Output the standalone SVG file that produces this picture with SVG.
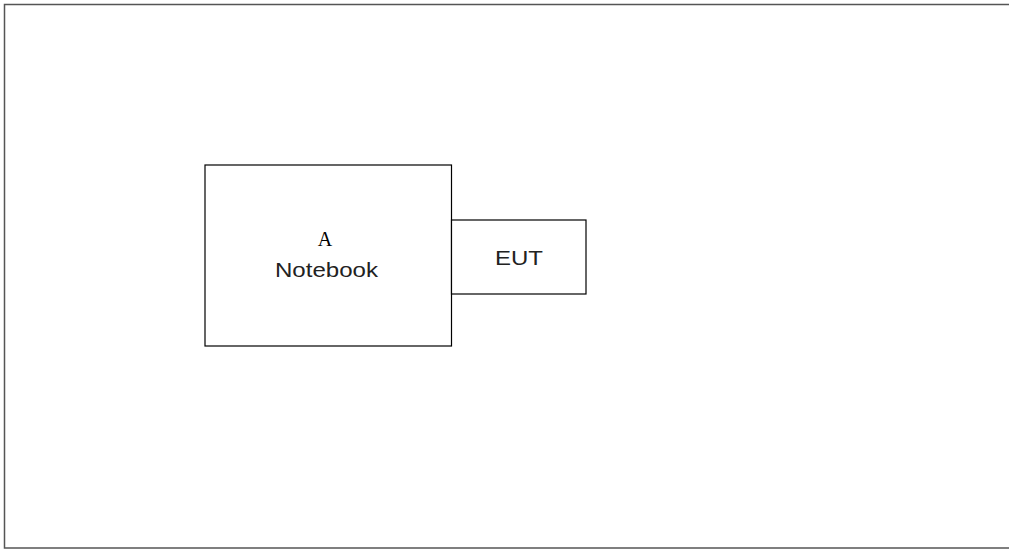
<svg xmlns="http://www.w3.org/2000/svg" width="1009" height="550" viewBox="0 0 1009 550">
<style>
.box{fill:#fff;stroke:#000;stroke-width:1.2}
.lbl{font-family:"Liberation Sans",Arial,sans-serif;font-size:21px;fill:#222;text-anchor:middle}
.ser{font-family:"Liberation Serif","Times New Roman",serif;font-size:20px;fill:#000;text-anchor:middle}
</style>
<rect x="0" y="0" width="1009" height="550" fill="#fff"/>
<rect id="frame" x="4.5" y="4.5" width="1010" height="543.5" fill="none" stroke="#555" stroke-width="1.5"/>
<g id="connectors"></g>
<g id="notebook">
<rect class="box" x="205" y="165" width="246.5" height="181"/>
<text class="ser" x="325" y="246">A</text>
<text class="lbl" x="326.5" y="277" textLength="103" lengthAdjust="spacingAndGlyphs">Notebook</text>
</g>
<g id="eut">
<rect class="box" x="451.5" y="220" width="134.5" height="74"/>
<text class="lbl" x="519" y="264.5" textLength="48" lengthAdjust="spacingAndGlyphs">EUT</text>
</g>
</svg>
